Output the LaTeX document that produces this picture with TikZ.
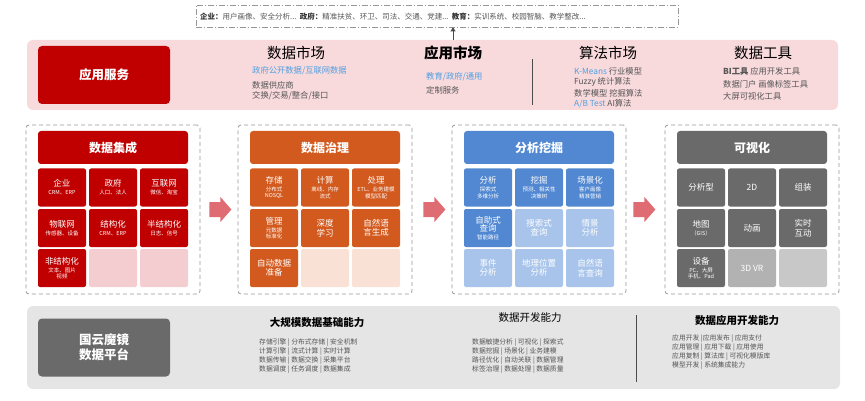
\documentclass[tikz,border=0pt]{standalone}
\usepackage{fontspec}
\setmainfont{Noto Sans CJK SC}
\usetikzlibrary{arrows.meta,calc}
\definecolor{appband}{RGB}{248,217,220}
\definecolor{botband}{RGB}{229,229,229}
\definecolor{redc}{RGB}{192,0,0}
\definecolor{redl}{RGB}{244,205,208}
\definecolor{orac}{RGB}{211,90,30}
\definecolor{oral}{RGB}{249,225,214}
\definecolor{bluec}{RGB}{82,136,210}
\definecolor{bluel}{RGB}{168,196,234}
\definecolor{grayc}{RGB}{106,106,106}
\definecolor{grayl}{RGB}{178,178,178}
\definecolor{grayll}{RGB}{200,200,200}
\definecolor{linkblue}{RGB}{80,160,225}
\definecolor{txtgray}{RGB}{85,85,85}
\definecolor{arrowc}{RGB}{223,107,115}
\definecolor{dashc}{RGB}{150,150,150}
\newcommand\cmain[1]{{\fontsize{8.5}{10}\selectfont #1}}
\newcommand\csub[1]{{\fontsize{5.5}{6.5}\selectfont #1}}
\begin{document}
\begin{tikzpicture}[x=1pt,y=-1pt,
  cellbox/.style={rounded corners=2pt, minimum width=48pt, minimum height=38pt, inner sep=0pt, align=center, text=white, font=\fontsize{8.5}{9.5}\selectfont},
  titlebox/.style={rounded corners=3pt, minimum width=150pt, minimum height=33pt, inner sep=0pt, text=white, font=\fontsize{12}{14}\selectfont\bfseries},
  panelbox/.style={draw=dashc, dash pattern=on 4pt off 3pt, line width=0.8pt, rounded corners=3pt, minimum width=174pt, minimum height=169pt},
  fatarrow/.style={fill=arrowc},
  coltitle/.style={font=\fontsize{14.5}{16}\selectfont, text=black, inner sep=0pt},
  itemtxt/.style={font=\fontsize{8.3}{10}\selectfont, text=txtgray, inner sep=0pt, anchor=west},
  bigbtn/.style={rounded corners=4pt, minimum width=132pt, minimum height=58pt, inner sep=0pt, text=white, align=center, font=\fontsize{12.5}{15}\selectfont\bfseries},
  captxt/.style={font=\fontsize{6.8}{9}\selectfont, text=txtgray, inner sep=0pt, anchor=north west, align=left}
]
\useasboundingbox (0,0) rectangle (865,401);

% top banner
\node[draw=dashc, dash pattern=on 6pt off 2pt on 1pt off 2pt, line width=0.6pt, minimum width=482pt, minimum height=22pt, inner sep=0pt] (ban) at (437,16) {};
\node[font=\fontsize{7.5}{9}\selectfont, text=txtgray, inner sep=0pt, anchor=west] (bantxt) at (200,17) {\textbf{\color{black!80}企业：}用户画像、安全分析...\ \ \textbf{\color{black!80}政府：}精准扶贫、环卫、司法、交通、党建...\ \ \textbf{\color{black!80}教育：}实训系统、校园智脑、教学整改...};

% application band
\node[fill=appband, rounded corners=6pt, minimum width=811pt, minimum height=70pt, inner sep=0pt] (app) at (432.5,75) {};
\coordinate (arrS) at (453,40);
\draw[line width=0.6pt, draw=black!70, -{Triangle[width=5pt,length=4pt]}] (arrS) -- (arrS |- ban.south);
\node[bigbtn, fill=redc] (appbtn) at (104,75) {应用服务};

\node[coltitle] (t1) at (296,53) {数据市场};
\node[itemtxt, text=linkblue] (t1a) at (252,71) {政府公开数据/互联网数据};
\node[itemtxt] (t1b) at (252,85) {数据供应商};
\node[itemtxt] (t1c) at (252,96) {交换/交易/整合/接口};

\node[coltitle, font=\fontsize{14.5}{16}\selectfont\bfseries] (t2) at (453,53) {应用市场};
\node[itemtxt, text=linkblue] (t2a) at (426,77) {教育/政府/通用};
\node[itemtxt] (t2b) at (426,90) {定制服务};
\coordinate (sepT) at (532,59);
\coordinate (sepB) at (532,105);
\draw[line width=0.8pt, draw=black!70] (sepT) -- (sepB);

\node[coltitle] (t3) at (608,53) {算法市场};
\node[itemtxt] (t3a) at (574,71) {\textcolor{linkblue}{K-Means} 行业模型};
\node[itemtxt] (t3b) at (574,82) {Fuzzy 统计算法};
\node[itemtxt] (t3c) at (574,93) {数学模型 挖掘算法};
\node[itemtxt] (t3d) at (574,104) {\textcolor{linkblue}{A/B Test} AI算法};

\node[coltitle] (t4) at (763,53) {数据工具};
\node[itemtxt] (t4a) at (723,71) {\textbf{BI工具} 应用开发工具};
\node[itemtxt] (t4b) at (723,84) {数据门户 画像标签工具};
\node[itemtxt] (t4c) at (723,96) {大屏可视化工具};

% panel 1
\node[panelbox] (p1) at (113,209.5) {};
\node[titlebox, fill=redc] (p1t) at (113,147.5) {数据集成};
\node[cellbox, fill=redc] (p1a) at (62,187.5) {\cmain{企业}\\[-1.5pt]\csub{CRM、ERP}};
\node[cellbox, fill=redc] (p1b) at (113,187.5) {\cmain{政府}\\[-1.5pt]\csub{人口、法人}};
\node[cellbox, fill=redc] (p1c) at (164,187.5) {\cmain{互联网}\\[-1.5pt]\csub{微信、淘宝}};
\node[cellbox, fill=redc] (p1d) at (62,228) {\cmain{物联网}\\[-1.5pt]\csub{传感器、设备}};
\node[cellbox, fill=redc] (p1e) at (113,228) {\cmain{结构化}\\[-1.5pt]\csub{CRM、ERP}};
\node[cellbox, fill=redc] (p1f) at (164,228) {\cmain{半结构化}\\[-1.5pt]\csub{日志、信号}};
\node[cellbox, fill=redc] (p1g) at (62,268) {\cmain{非结构化}\\[-1.5pt]\csub{文本、图片}\\[-3pt]\csub{视频}};
\node[cellbox, fill=redl] (p1h) at (113,268) {};
\node[cellbox, fill=redl] (p1i) at (164,268) {};

% panel 2
\node[panelbox] (p2) at (325,209.5) {};
\node[titlebox, fill=orac] (p2t) at (325,147.5) {数据治理};
\node[cellbox, fill=orac] (p2a) at (274,187.5) {\cmain{存储}\\[-1.5pt]\csub{分布式}\\[-3pt]\csub{NOSQL}};
\node[cellbox, fill=orac] (p2b) at (325,187.5) {\cmain{计算}\\[-1.5pt]\csub{离线、内存}\\[-3pt]\csub{流式}};
\node[cellbox, fill=orac] (p2c) at (376,187.5) {\cmain{处理}\\[-1.5pt]\csub{ETL、业务建模}\\[-3pt]\csub{模型匹配}};
\node[cellbox, fill=orac] (p2d) at (274,228) {\cmain{管理}\\[-1.5pt]\csub{元数据}\\[-3pt]\csub{标准化}};
\node[cellbox, fill=orac] (p2e) at (325,228) {深度\\学习};
\node[cellbox, fill=orac] (p2f) at (376,228) {自然语\\言生成};
\node[cellbox, fill=orac] (p2g) at (274,268) {自动数据\\准备};
\node[cellbox, fill=oral] (p2h) at (325,268) {};
\node[cellbox, fill=oral] (p2i) at (376,268) {};

% panel 3
\node[panelbox] (p3) at (539,209.5) {};
\node[titlebox, fill=bluec] (p3t) at (539,147.5) {分析挖掘};
\node[cellbox, fill=bluec] (p3a) at (488,187.5) {\cmain{分析}\\[-1.5pt]\csub{探索式}\\[-3pt]\csub{多维分析}};
\node[cellbox, fill=bluec] (p3b) at (539,187.5) {\cmain{挖掘}\\[-1.5pt]\csub{预测、相关性}\\[-3pt]\csub{决策树}};
\node[cellbox, fill=bluec] (p3c) at (590,187.5) {\cmain{场景化}\\[-1.5pt]\csub{客户画像}\\[-3pt]\csub{精准营销}};
\node[cellbox, fill=bluec] (p3d) at (488,228) {自助式\\[-1pt]查询\\[-2pt]\csub{智能路径}};
\node[cellbox, fill=bluel] (p3e) at (539,228) {搜索式\\查询};
\node[cellbox, fill=bluel] (p3f) at (590,228) {情景\\分析};
\node[cellbox, fill=bluel] (p3g) at (488,268) {事件\\分析};
\node[cellbox, fill=bluel] (p3h) at (539,268) {地理位置\\分析};
\node[cellbox, fill=bluel] (p3i) at (590,268) {自然语\\言查询};

% panel 4
\node[panelbox] (p4) at (752,209.5) {};
\node[titlebox, fill=grayc] (p4t) at (752,147.5) {可视化};
\node[cellbox, fill=grayc] (p4a) at (701,187.5) {分析型};
\node[cellbox, fill=grayc] (p4b) at (752,187.5) {2D};
\node[cellbox, fill=grayc] (p4c) at (803,187.5) {组装};
\node[cellbox, fill=grayc] (p4d) at (701,228) {\cmain{地图}\\[-1.5pt]\csub{（GIS）}};
\node[cellbox, fill=grayc] (p4e) at (752,228) {动画};
\node[cellbox, fill=grayc] (p4f) at (803,228) {实时\\互动};
\node[cellbox, fill=grayc] (p4g) at (701,268) {\cmain{设备}\\[-1.5pt]\csub{PC、大屏}\\[-3pt]\csub{手机、Pad}};
\node[cellbox, fill=grayl] (p4h) at (752,268) {3D VR};
\node[cellbox, fill=grayll] (p4i) at (803,268) {};

% fat arrows between panels
\foreach \a/\b/\d in {p1/p2/9, p2/p3/11, p3/p4/7}{
  \begin{scope}[shift={($(\a.east)+(\d,0)$)}]
    \fill[fatarrow] (0,-7.5) -- (11,-7.5) -- (11,-12.5) -- (22,0) -- (11,12.5) -- (11,7.5) -- (0,7.5) -- cycle;
  \end{scope}
}

% bottom band
\node[fill=botband, rounded corners=6pt, minimum width=813pt, minimum height=83pt, inner sep=0pt] (bot) at (433.5,347.5) {};
\node[bigbtn, fill=grayc] (botbtn) at (104,347.5) {国云魔镜\\数据平台};

\node[font=\fontsize{10.5}{12}\selectfont\bfseries, inner sep=0pt] (b1t) at (317,323) {大规模数据基础能力};
\node[captxt] (b1) at (259,338.5) {存储引擎 | 分布式存储 | 安全机制\\计算引擎 | 流式计算 | 实时计算\\数据传输 | 数据交换 | 采集平台\\数据调度 | 任务调度 | 数据集成};

\node[font=\fontsize{10.5}{12}\selectfont, inner sep=0pt] (b2t) at (530,318) {数据开发能力};
\node[captxt] (b2) at (472,338.5) {数据敏捷分析 | 可视化 | 探索式\\数据挖掘 | 场景化 | 业务建模\\路径优化 | 自动关联 | 数据管理\\标签治理 | 数据处理 | 数据质量};

\coordinate (bsepT) at (636,315);
\coordinate (bsepB) at (636,382);
\draw[line width=0.8pt, draw=black!70] (bsepT) -- (bsepB);

\node[font=\fontsize{10.5}{12}\selectfont\bfseries, inner sep=0pt] (b3t) at (737,320) {数据应用开发能力};
\node[captxt] (b3) at (672,334.5) {应用开发 |应用发布 | 应用支付\\应用管理 | 应用下载 | 应用使用\\应用复制 | 算法库 | 可视化模版库\\模型开发 | 系统集成能力};
\end{tikzpicture}
\end{document}
